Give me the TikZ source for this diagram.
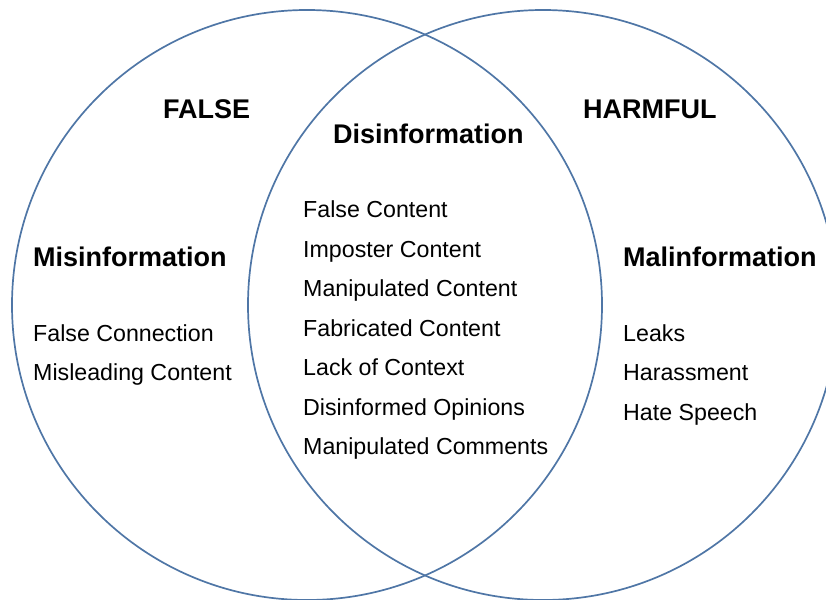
\documentclass[tikz,border=0pt]{standalone}
\usepackage{fontspec}
\setmainfont{Liberation Sans}
\definecolor{ringblue}{RGB}{79,118,166}
\begin{document}
\begin{tikzpicture}[x=1pt,y=-1pt,
  ring/.style={draw=ringblue,line width=1.7pt},
  head/.style={anchor=base west,inner sep=0pt,font=\fontsize{27}{30}\selectfont\bfseries},
  item/.style={anchor=base west,inner sep=0pt,font=\fontsize{23.2}{28}\selectfont}]
\useasboundingbox (0,0) rectangle (826,599);
\begin{scope}
\clip (0,0) rectangle (826,599);
\draw[ring] (307,305) circle[radius=295];
\draw[ring] (543,305) circle[radius=295];
\end{scope}
\node[head] (false) at (163,118) {FALSE};
\node[head] (harmful) at (583,118) {HARMFUL};
\node[head] (dis) at (333,143) {Disinformation};
\node[head] (mis) at (33,266) {Misinformation};
\node[head] (mal) at (623,266) {Malinformation};
\node[item] (m1) at (33,341) {False Connection};
\node[item] (m2) at (33,380.5) {Misleading Content};
\node[item] (d1) at (303,217.5) {False Content};
\node[item] (d2) at (303,257) {Imposter Content};
\node[item] (d3) at (303,296.5) {Manipulated Content};
\node[item] (d4) at (303,336) {Fabricated Content};
\node[item] (d5) at (303,375.5) {Lack of Context};
\node[item] (d6) at (303,415) {Disinformed Opinions};
\node[item] (d7) at (303,454.5) {Manipulated Comments};
\node[item] (h1) at (623,341) {Leaks};
\node[item] (h2) at (623,380.5) {Harassment};
\node[item] (h3) at (623,420) {Hate Speech};
\end{tikzpicture}
\end{document}
